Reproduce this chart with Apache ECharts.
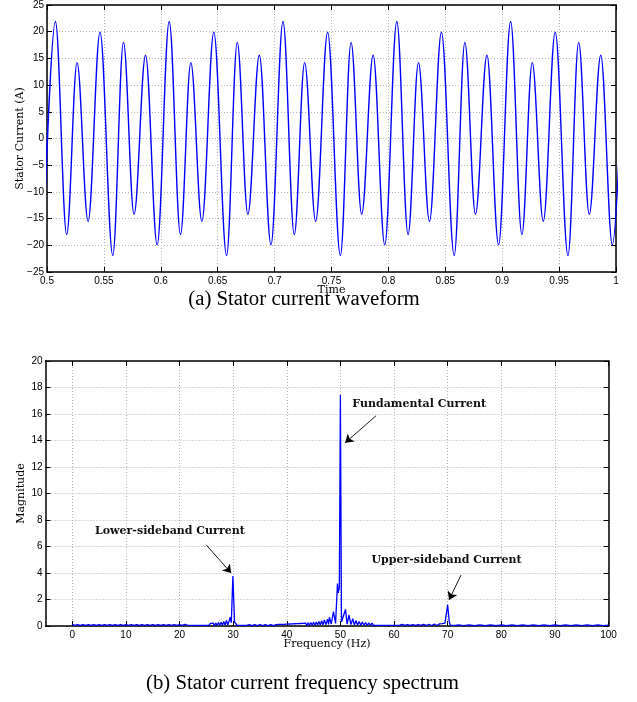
<!DOCTYPE html>
<html><head><meta charset="utf-8">
<script src="https://cdn.jsdelivr.net/npm/echarts@6/dist/echarts.min.js"></script>
<style>html,body{margin:0;padding:0;background:#fff}#c{width:637px;height:702px}</style>
</head><body><div id="c"></div>
<script>
// ---- (a) Stator current waveform: extrema (time in s, current in A) ----
const waveTime = [
  0.4968,
  0.5074, 0.5173, 0.5264, 0.5361, 0.5466, 0.5578, 0.5672, 0.5765, 0.5866, 0.5968,
  0.6074, 0.6173, 0.6264, 0.6361, 0.6466, 0.6578, 0.6672, 0.6765, 0.6866, 0.6968,
  0.7074, 0.7173, 0.7264, 0.7361, 0.7466, 0.7578, 0.7672, 0.7765, 0.7866, 0.7968,
  0.8074, 0.8173, 0.8264, 0.8361, 0.8466, 0.8578, 0.8672, 0.8765, 0.8866, 0.8968,
  0.9074, 0.9173, 0.9264, 0.9361, 0.9466, 0.9578, 0.9672, 0.9765, 0.9866, 0.9968,
  1.0074
];
const waveCurrent = [
  -19.9,
  21.9, -18.0, 14.2, -15.5, 19.9, -21.9, 18.0, -14.2, 15.6, -19.9,
  21.9, -18.0, 14.2, -15.5, 19.9, -21.9, 18.0, -14.2, 15.6, -19.9,
  21.9, -18.0, 14.2, -15.5, 19.9, -21.9, 18.0, -14.2, 15.6, -19.9,
  21.9, -18.0, 14.2, -15.5, 19.9, -21.9, 18.0, -14.2, 15.6, -19.9,
  21.9, -18.0, 14.2, -15.5, 19.9, -21.9, 18.0, -14.2, 15.6, -19.9,
  21.9
];

// ---- (b) Stator current frequency spectrum (Hz, magnitude) ----
const specFreq = [
  0, 0.5, 1, 1.5, 2, 2.5, 3, 3.5, 4, 4.5, 5, 5.5, 6, 6.5, 7, 7.5, 8, 8.5, 9, 9.5, 10, 10.5,
  11, 11.5, 12, 12.5, 13, 13.5, 14, 14.5, 15, 15.5, 16, 16.5, 17, 17.5, 18, 18.5, 19, 19.5, 20, 20.5, 21, 21.5,
  22, 22.25, 22.5, 22.75, 23, 23.25, 23.5, 23.75, 24, 24.25, 24.5, 24.75, 25, 25.25, 25.5, 25.75,
  26, 26.25, 26.5, 26.75, 27, 27.25, 27.5, 27.75, 28, 28.25, 28.5, 28.75, 29,
  29.45, 29.65, 29.95, 30.25, 30.5, 30.75, 31, 31.25, 31.5, 31.75, 32,
  32.5, 33, 33.5, 34, 34.5, 35, 35.5, 36, 36.5, 37, 37.5, 38,
  38.25, 38.5, 38.75, 39, 39.25, 39.5, 39.75, 40, 40.25, 40.5, 40.75, 41, 41.25, 41.5, 41.75, 42,
  42.25, 42.5, 42.75, 43, 43.25, 43.5, 43.75, 44, 44.25, 44.5, 44.75, 45, 45.25, 45.5, 45.75, 46,
  46.25, 46.5, 46.75, 47, 47.3, 47.6, 47.8, 47.95, 48.3, 48.7, 49.1, 49.45, 49.6, 49.8,
  50.0, 50.2, 50.55, 50.95, 51.25, 51.6, 51.95, 52.3, 52.6, 52.9, 53.2, 53.5, 53.8, 54.1, 54.4, 54.7,
  55.0, 55.3, 55.6, 55.9, 56.2, 56.5, 56.8, 57.1, 57.4, 57.7, 58.0, 58.3, 58.6, 58.9, 59.2, 59.5, 59.8,
  60.1, 60.4, 60.7, 61, 61.5, 62, 62.5, 63, 63.5, 64, 64.5, 65, 65.5, 66, 66.5, 67, 67.5, 68, 68.5,
  68.75, 69, 69.25, 69.5, 69.7, 70.0, 70.3, 70.5, 70.75, 71, 71.25, 71.5, 72,
  73, 74, 75, 76, 77, 78, 79, 80, 81, 82, 83, 84, 85, 86, 87, 88, 89, 90,
  91, 92, 93, 94, 95, 96, 97, 98, 99, 100
];
const specMag = [
  0.12, 0.04, 0.1, 0.04, 0.1, 0.04, 0.1, 0.04, 0.1, 0.04, 0.1, 0.04, 0.1, 0.04, 0.1, 0.04, 0.1, 0.04, 0.1, 0.04, 0.1, 0.04,
  0.1, 0.04, 0.1, 0.04, 0.1, 0.04, 0.1, 0.04, 0.1, 0.04, 0.1, 0.04, 0.1, 0.04, 0.11, 0.04, 0.11, 0.04, 0.11, 0.04, 0.12, 0.04,
  0.04, 0.12, 0.04, 0.13, 0.04, 0.14, 0.04, 0.15, 0.04, 0.16, 0.04, 0.17, 0.04, 0.18, 0.04, 0.2,
  0.05, 0.21, 0.05, 0.23, 0.05, 0.26, 0.05, 0.29, 0.06, 0.34, 0.07, 0.42, 0.08,
  0.66, 0.25, 3.78, 0.30, 0.22, 0.05, 0.16, 0.04, 0.12, 0.04, 0.1,
  0.04, 0.1, 0.03, 0.1, 0.03, 0.1, 0.03, 0.1, 0.03, 0.11, 0.03, 0.11,
  0.03, 0.12, 0.03, 0.12, 0.03, 0.13, 0.04, 0.14, 0.04, 0.15, 0.04, 0.16, 0.04, 0.17, 0.04, 0.18,
  0.04, 0.19, 0.05, 0.2, 0.05, 0.22, 0.05, 0.24, 0.05, 0.26, 0.06, 0.28, 0.06, 0.31, 0.07, 0.34,
  0.08, 0.38, 0.09, 0.45, 0.10, 0.52, 0.12, 0.66, 0.15, 1.08, 0.20, 3.20, 2.50, 2.90,
  17.46, 0.30, 0.22, 1.25, 0.14, 0.83, 0.1, 0.55, 0.08, 0.42, 0.07, 0.34, 0.06, 0.3, 0.06, 0.26,
  0.05, 0.24, 0.05, 0.22, 0.05, 0.2, 0.05, 0.19, 0.04, 0.17, 0.04, 0.16, 0.04, 0.15, 0.04, 0.14, 0.04,
  0.13, 0.04, 0.12, 0.04, 0.12, 0.04, 0.11, 0.04, 0.11, 0.04, 0.11, 0.04, 0.12, 0.04, 0.13, 0.04, 0.14, 0.04, 0.16,
  0.05, 0.18, 0.05, 0.22, 0.32, 1.60, 0.32, 0.06, 0.15, 0.04, 0.11, 0.04, 0.09,
  0.03, 0.08, 0.03, 0.08, 0.03, 0.08, 0.03, 0.08, 0.03, 0.08, 0.03, 0.08, 0.03, 0.08, 0.03, 0.08, 0.03, 0.08,
  0.03, 0.08, 0.03, 0.08, 0.03, 0.08, 0.03, 0.08, 0.03, 0.06
];
const freqTicks = [0, 10, 20, 30, 40, 50, 60, 70, 80, 90, 100];

// annotations (text and arrow tail/head in data coordinates of plot b)
const noteText = ['Fundamental Current', 'Lower-sideband Current', 'Upper-sideband Current'];
const notePos = [[64.7, 16.78], [18.2, 7.18], [69.8, 4.99]];
const arrowFrom = [[56.65, 15.87], [24.97, 6.12], [72.5, 3.85]];
const arrowTo = [[50.9, 13.83], [29.63, 4.0], [70.26, 1.97]];

const captions = ['(a) Stator current waveform', '(b) Stator current frequency spectrum'];

const tickFont = { fontFamily: '"Liberation Sans", Arial, sans-serif', fontSize: 10, color: '#000' };
const nameFont = { fontFamily: '"DejaVu Serif", serif', fontSize: 11, color: '#000' };
const axisLine = { show: true, onZero: false, lineStyle: { color: '#000', width: 1.5 } };
const tickIn = { show: true, inside: true, length: 5, lineStyle: { color: '#000', width: 1 } };
const gridLine = { show: true, lineStyle: { color: '#b4b4b4', width: 1, type: [1, 2] } };
const minus = v => String(v).replace('-', '\u2212');

const chart = echarts.init(document.getElementById('c'), null, { renderer: 'canvas' });
chart.setOption({
  animation: false,
  backgroundColor: '#fff',
  grid: [
    { left: 47, right: 21, top: 5, height: 267, outerBoundsMode: 'none', containLabel: false },
    { left: 45.5, right: 28.5, top: 361, height: 265, outerBoundsMode: 'none', containLabel: false }
  ],
  xAxis: [
    { gridIndex: 0, type: 'value', min: 0.5, max: 1, interval: 0.05, position: 'bottom',
      axisLine, axisTick: tickIn, splitLine: gridLine,
      axisLabel: Object.assign({ margin: 4, showMinLabel: true, showMaxLabel: true,
        formatter: v => String(parseFloat(v.toFixed(2))) }, tickFont),
      name: 'Time', nameLocation: 'middle', nameGap: 13, nameMoveOverlap: false, nameTextStyle: nameFont },
    { gridIndex: 0, type: 'value', min: 0.5, max: 1, interval: 0.05, position: 'top',
      axisLine, axisTick: tickIn, splitLine: { show: false }, axisLabel: { show: false } },
    { gridIndex: 1, type: 'value', min: -5, max: 100, position: 'bottom',
      axisLine, axisTick: Object.assign({ customValues: freqTicks }, tickIn), splitLine: gridLine,
      axisLabel: Object.assign({ margin: 4, customValues: freqTicks }, tickFont),
      name: 'Frequency (Hz)', nameLocation: 'middle', nameGap: 13, nameMoveOverlap: false, nameTextStyle: nameFont },
    { gridIndex: 1, type: 'value', min: -5, max: 100, position: 'top',
      axisLine, axisTick: Object.assign({ customValues: freqTicks }, tickIn),
      splitLine: { show: false }, axisLabel: { show: false } }
  ],
  yAxis: [
    { gridIndex: 0, type: 'value', min: -25, max: 25, interval: 5, position: 'left',
      axisLine, axisTick: tickIn, splitLine: gridLine,
      axisLabel: Object.assign({ margin: 3, showMinLabel: true, showMaxLabel: true, formatter: minus }, tickFont),
      name: 'Stator Current (A)', nameLocation: 'middle', nameGap: 21, nameMoveOverlap: false, nameTextStyle: nameFont },
    { gridIndex: 0, type: 'value', min: -25, max: 25, interval: 5, position: 'right',
      axisLine, axisTick: tickIn, splitLine: { show: false }, axisLabel: { show: false } },
    { gridIndex: 1, type: 'value', min: 0, max: 20, interval: 2, position: 'left',
      axisLine, axisTick: tickIn, splitLine: gridLine,
      axisLabel: Object.assign({ margin: 3, showMinLabel: true, showMaxLabel: true }, tickFont),
      name: 'Magnitude', nameLocation: 'middle', nameGap: 19, nameMoveOverlap: false, nameTextStyle: nameFont },
    { gridIndex: 1, type: 'value', min: 0, max: 20, interval: 2, position: 'right',
      axisLine, axisTick: tickIn, splitLine: { show: false }, axisLabel: { show: false } }
  ],
  series: [
    { type: 'line', xAxisIndex: 0, yAxisIndex: 0, clip: true,
      data: waveTime.map((t, i) => [t, waveCurrent[i]]),
      smooth: 0.363, smoothMonotone: 'x', symbol: 'none',
      lineStyle: { color: '#0000ff', width: 1.4 }, z: 3 },
    { type: 'line', xAxisIndex: 2, yAxisIndex: 2, clip: true,
      data: specFreq.map((f, i) => [f, specMag[i]]),
      smooth: false, symbol: 'none',
      lineStyle: { color: '#0000ff', width: 1.3 }, z: 3,
      markLine: {
        silent: true, symbol: ['none', 'arrow'], symbolSize: 8, precision: 4,
        itemStyle: { color: '#000' },
        lineStyle: { color: '#000', width: 0.9, type: 'solid' },
        label: { show: false },
        data: arrowFrom.map((a, i) => [{ coord: a }, { coord: arrowTo[i] }])
      },
      markPoint: {
        silent: true, symbol: 'circle', symbolSize: 0,
        label: { show: true, position: 'inside', fontFamily: '"DejaVu Serif", serif', fontWeight: 'bold',
                 fontSize: 11, color: '#111' },
        data: notePos.map((p, i) => ({ coord: p, label: { formatter: noteText[i] } }))
      }
    }
  ],
  graphic: [
    { type: 'text', x: 304, y: 300, style: { text: captions[0], font: '20.8px "Liberation Serif", serif',
      fill: '#000', align: 'center', verticalAlign: 'middle', textAlign: 'center', textVerticalAlign: 'middle' } },
    { type: 'text', x: 302.5, y: 684, style: { text: captions[1], font: '20.8px "Liberation Serif", serif',
      fill: '#000', align: 'center', verticalAlign: 'middle', textAlign: 'center', textVerticalAlign: 'middle' } }
  ]
});
</script></body></html>
